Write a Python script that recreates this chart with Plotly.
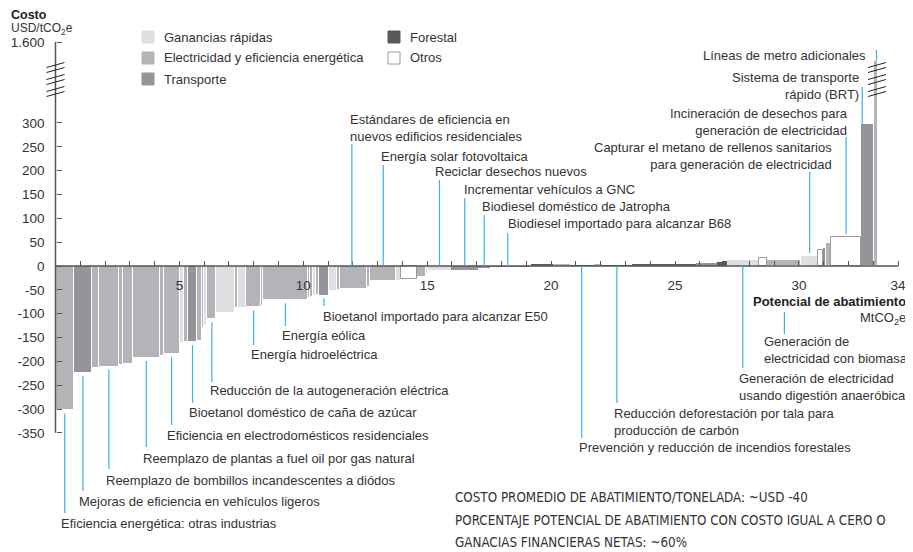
import plotly.graph_objects as go

# ---- data -------------------------------------------------------------
categories = ["Ganancias rápidas", "Electricidad y eficiencia energética",
              "Transporte", "Forestal", "Otros"]

# category code of each bar, left to right (G, E, T, F, O)
bar_cat = ["E", "T", "E", "E", "E", "E", "E", "E", "E", "G",
           "E", "T", "E", "E", "G", "E", "G", "E", "G", "E",
           "E", "E", "E", "E", "G", "E", "T", "G", "E", "E",
           "E", "E", "G", "O", "E", "G", "G", "T", "T", "T",
           "F", "E", "F", "E", "F", "F", "T", "F", "F", "G",
           "O", "E", "G", "O", "T", "E", "O", "T", "E"]

# abatement potential of each bar (MtCO2e)
bar_width = [0.75, 0.71, 0.30, 0.79, 0.16, 0.42, 1.07, 0.16, 0.65, 0.16,
             0.16, 0.40, 0.18, 0.10, 0.12, 0.36, 0.77, 0.12, 0.32, 0.59,
             0.10, 1.78, 0.12, 0.12, 0.12, 0.10, 0.40, 0.34, 0.10, 1.09,
             0.14, 1.05, 0.18, 0.65, 0.38, 0.06, 0.95, 1.09, 0.48, 1.65,
             0.87, 0.69, 0.97, 0.34, 1.19, 2.58, 0.85, 0.20, 0.22, 1.27,
             0.36, 1.37, 0.67, 0.20, 0.14, 0.20, 1.19, 0.55, 0.16]

# cost of each bar (USD/tCO2e)
bar_cost = [-303, -224, -214, -211, -207, -205, -193, -188, -185, -162,
            -160, -160, -157, -131, -125, -112, -98, -89, -88, -87,
            -84, -72, -68, -65, -63, -60, -62, -52, -50, -49,
            -44, -32, -32, -28, -24, -18, -8, -8, -5, -1,
            3, 3, 2, 3, 2, 3, 6, 8, 10, 12,
            16, 13, 21, 33, 38, 49, 60, 297, 1300]

label_text = [
    "Eficiencia energética: otras industrias",
    "Mejoras de eficiencia en vehículos ligeros",
    "Reemplazo de bombillos incandescentes a diódos",
    "Reemplazo de plantas a fuel oil por gas natural",
    "Eficiencia en electrodomésticos residenciales",
    "Bioetanol doméstico de caña de azúcar",
    "Reducción de la autogeneración eléctrica",
    "Energía hidroeléctrica",
    "Energía eólica",
    "Bioetanol importado para alcanzar E50",
    "Estándares de eficiencia en<br>nuevos edificios residenciales",
    "Energía solar fotovoltaica",
    "Reciclar desechos nuevos",
    "Incrementar vehículos a GNC",
    "Biodiesel doméstico de Jatropha",
    "Biodiesel importado para alcanzar B68",
    "Prevención y reducción de incendios forestales",
    "Reducción deforestación por tala para<br>producción de carbón",
    "Generación de electricidad<br>usando digestión anaeróbica",
    "Generación de<br>electricidad con biomasa",
    "Capturar el metano de rellenos sanitarios<br>para generación de electricidad",
    "Incineración de desechos para<br>generación de electricidad",
    "Sistema de transporte<br>rápido (BRT)",
    "Líneas de metro adicionales",
]
label_bar = [0, 1, 3, 6, 8, 11, 15, 19, 21, 26,
             29, 31, 36, 37, 38, 39, 42, 44, 49, 51,
             52, 56, 57, 58]

y_tick_vals = [-350, -300, -250, -200, -150, -100, -50, 0, 50, 100, 150, 200, 250, 300]
y_top_value = 1600
x_tick_labels = {5: "5", 10: "10", 15: "15", 20: "20", 25: "25", 30: "30", 34: "34"}

# ---- layout helpers ---------------------------------------------------
W, H = 913, 552
OFF = 8                           # page margin around the figure
X0_PX, X_SCALE = 55.5, 24.78      # px of x=0, px per MtCO2e (page coords)
Y0_PX, Y_SCALE = 266.0, 0.4767    # px of cost=0, px per USD
BREAK_AT = 300


def xd(p):
    return (p - X0_PX) / X_SCALE


def yd(p):
    return (Y0_PX - p) / Y_SCALE


TOP_DISP = yd(42)


def disp(v):
    # compressed scale above the axis break
    if v <= BREAK_AT:
        return v
    return BREAK_AT + (v - BREAK_AT) * (TOP_DISP - BREAK_AT) / (y_top_value - BREAK_AT)


def px(x):
    return (x - OFF) / W


def py(y):
    return 1 - (y - OFF) / H


colors = {"G": "#dedfe0", "E": "#b3b4b7", "T": "#949598", "F": "#58595b", "O": "#ffffff"}
outline = {"G": "#ffffff", "E": "#ffffff", "T": "#ffffff", "F": "#ffffff", "O": "#9a9a9a"}
BLUE = "#3db1e3"
AXIS = "#555555"
TEXT = "#333333"
FONT = "Liberation Sans, Arial, sans-serif"

starts = []
acc = 0
for w in bar_width:
    starts.append(acc)
    acc += w

fig = go.Figure()

for code in ["G", "E", "T", "F", "O"]:
    idx = [i for i, c in enumerate(bar_cat) if c == code]
    fig.add_trace(go.Bar(
        x=[starts[i] + bar_width[i] / 2 for i in idx],
        y=[disp(bar_cost[i]) for i in idx],
        width=[bar_width[i] for i in idx],
        marker=dict(color=colors[code],
                    line=dict(color=outline[code],
                              width=[1 if abs(bar_cost[i]) > 12 or code == "O" else 0 for i in idx])),
        name=categories["GETFO".index(code)],
        hoverinfo="skip",
    ))

# axes lines
fig.add_shape(type="line", x0=0, x1=34, y0=0, y1=0, line=dict(color=AXIS, width=1.5), layer="above")
fig.add_shape(type="line", x0=0, x1=0, y0=-350, y1=TOP_DISP, line=dict(color=AXIS, width=1.5), layer="above")

# axis breaks
for bx in [X0_PX, 877]:
    for yy in [65, 70, 77, 82, 89, 94]:
        fig.add_shape(type="line", xref="paper", yref="paper",
                      x0=px(bx - 9), x1=px(bx + 9), y0=py(yy + 2.5), y1=py(yy - 2.5),
                      line=dict(color="#222222", width=1), layer="above")

# ---- callouts -----------------------------------------------------------
# (text x px, text y px, anchor, end of leader px, position along bar, start override px)
label_layout = [
    (59, 523, "left", 513, 0.5, None),
    (77, 501, "left", 491, 0.5, None),
    (104, 480, "left", 469, 0.5, None),
    (141, 458, "left", 447, 0.5, None),
    (165, 435, "left", 425, 0.5, None),
    (187, 412, "left", 403, 0.5, None),
    (208, 390, "left", 382, 0.5, None),
    (249, 354, "left", 345, 0.5, None),
    (280, 335, "left", 326, 0.5, None),
    (321, 316, "left", 306, 0.5, None),
    (348, 128, "left", 144, 0.45, None),
    (379, 156, "left", 165, 0.5, None),
    (433, 171, "left", 180, 0.5, None),
    (462, 189, "left", 198, 0.5, None),
    (480, 206, "left", 215, 0.5, None),
    (506, 224, "left", 233, 0.43, None),
    (577, 447, "left", 438, 0.5, None),
    (612, 422, "left", 403, 0.5, None),
    (737, 387, "left", 368, 0.5, None),
    (762, 350, "left", 334, 0.5, 312),
    (834, 156, "right", 172, 0.5, None),
    (850, 122, "right", 137, 0.5, None),
    (861, 86, "right", 87, 0.1, None),
    (868, 56, "right", 50, 0.5, None),
]

GAP = 3 / Y_SCALE
for text, b, (tx, ty, anchor, lend, frac, lstart) in zip(label_text, label_bar, label_layout):
    lx = starts[b] + frac * bar_width[b]
    below = lend > Y0_PX
    if lstart is not None:
        y0 = yd(lstart)
    elif below:
        y0 = disp(bar_cost[b]) - GAP if bar_cost[b] < 0 else 0
    elif bar_cost[b] > 100:
        y0 = disp(bar_cost[b])
    elif bar_cost[b] > 0:
        y0 = disp(bar_cost[b]) + GAP
    else:
        y0 = 0
    fig.add_shape(type="line", x0=lx, x1=lx, y0=y0, y1=yd(lend),
                  line=dict(color=BLUE, width=1.2), layer="above")
    fig.add_annotation(x=px(tx), y=py(ty), xref="paper", yref="paper", text=text,
                       showarrow=False, xanchor=anchor, yanchor="middle", align=anchor,
                       font=dict(family=FONT, size=13, color=TEXT))

# ---- legend --------------------------------------------------------------
legend_pos = [(142, 37), (142, 58), (142, 79), (388, 37), (388, 58)]
for code, (lx, ly) in zip(["G", "E", "T", "F", "O"], legend_pos):
    fig.add_shape(type="rect", xref="paper", yref="paper",
                  x0=px(lx), x1=px(lx + 12), y0=py(ly + 6), y1=py(ly - 6),
                  fillcolor=colors[code],
                  line=dict(color="#9a9a9a" if code == "O" else colors[code], width=1))
    fig.add_annotation(x=px(lx + 20), y=py(ly), xref="paper", yref="paper",
                       text=categories["GETFO".index(code)], showarrow=False,
                       xanchor="left", yanchor="middle",
                       font=dict(family=FONT, size=13, color=TEXT))

# ---- axis titles ---------------------------------------------------------
fig.add_annotation(x=px(10), y=py(15), xref="paper", yref="paper", text="<b>Costo</b>",
                   showarrow=False, xanchor="left", yanchor="middle", borderpad=0,
                   font=dict(family=FONT, size=12.5, color="#222222"))
fig.add_annotation(x=px(10), y=py(29), xref="paper", yref="paper", text="USD/tCO<sub>2</sub>e",
                   showarrow=False, xanchor="left", yanchor="middle", borderpad=0,
                   font=dict(family=FONT, size=12, color=TEXT))
fig.add_annotation(x=px(908), y=py(301), xref="paper", yref="paper",
                   text="<b>Potencial de abatimiento</b>",
                   showarrow=False, xanchor="right", yanchor="middle",
                   font=dict(family=FONT, size=13, color="#222222"))
fig.add_annotation(x=px(908), y=py(318), xref="paper", yref="paper", text="MtCO<sub>2</sub>e",
                   showarrow=False, xanchor="right", yanchor="middle",
                   font=dict(family=FONT, size=13, color=TEXT))

notes = ["COSTO PROMEDIO DE ABATIMIENTO/TONELADA: ~USD -40",
         "PORCENTAJE POTENCIAL DE ABATIMIENTO CON COSTO IGUAL A CERO O",
         "GANACIAS FINANCIERAS NETAS: ~60%"]
for note, ny in zip(notes, [497, 520, 542]):
    fig.add_annotation(x=px(453), y=py(ny), xref="paper", yref="paper", text=note,
                       showarrow=False, xanchor="left", yanchor="middle",
                       font=dict(family="Liberation Sans Narrow, DejaVu Sans Condensed, Roboto Condensed, sans-serif",
                                 size=13.3, color=TEXT))

xticks = list(range(0, 35))
fig.update_layout(
    width=W, height=H,
    margin=dict(l=0, r=0, t=0, b=0),
    paper_bgcolor="white", plot_bgcolor="white",
    barmode="overlay", bargap=0,
    showlegend=False,
    font=dict(family=FONT, color=TEXT),
    xaxis=dict(range=[xd(OFF), xd(OFF + W)], anchor="free", position=py(Y0_PX),
               showgrid=False, zeroline=False, showline=False,
               tickmode="array", tickvals=xticks,
               ticktext=[x_tick_labels.get(t, "") for t in xticks],
               ticks="inside", ticklen=5, tickwidth=1, tickcolor=AXIS,
               ticklabelstandoff=9,
               tickfont=dict(family=FONT, size=13.5, color=TEXT)),
    yaxis=dict(range=[yd(OFF + H), yd(OFF)], anchor="free", position=px(X0_PX),
               showgrid=False, zeroline=False, showline=False,
               tickmode="array", tickvals=y_tick_vals + [TOP_DISP],
               ticktext=[str(v) for v in y_tick_vals] + ["1.600"],
               ticks="inside", ticklen=5, tickwidth=1, tickcolor=AXIS,
               ticklabelstandoff=11,
               tickfont=dict(family=FONT, size=13.5, color=TEXT)),
)

fig.write_html("out.html")
